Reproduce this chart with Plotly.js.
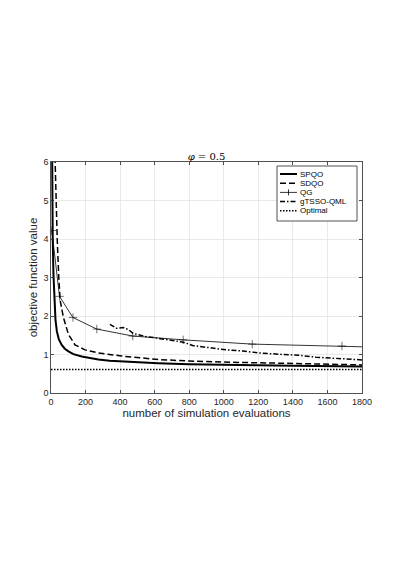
<!DOCTYPE html>
<html>
<head>
<meta charset="utf-8">
<script src="https://cdn.plot.ly/plotly-3.0.1.min.js"></script>
<style>html,body{margin:0;padding:0;background:#fff;}#chart{width:399px;height:564px;}</style>
</head>
<body>
<div id="chart"></div>
<script>
// ---- data ----
const spqoX = [4, 6, 8, 10, 14, 20, 26, 34, 45, 62, 80, 101, 130, 178, 230, 274, 340, 408, 500, 620, 800, 1000, 1200, 1400, 1600, 1800];
const spqoY = [8.0, 6.0, 4.8, 4.0, 3.1, 2.3, 1.9, 1.6, 1.4, 1.25, 1.15, 1.08, 1.01, 0.95, 0.90, 0.87, 0.84, 0.82, 0.80, 0.775, 0.75, 0.73, 0.72, 0.71, 0.70, 0.69];

const sdqoX = [12, 22, 28, 36, 45, 53, 72, 101, 139, 197, 274, 408, 620, 800, 1036, 1228, 1500, 1800];
const sdqoY = [8.0, 6.0, 5.0, 4.0, 3.0, 2.4, 1.96, 1.52, 1.25, 1.12, 1.04, 0.96, 0.87, 0.83, 0.80, 0.78, 0.75, 0.73];

const qgX = [5, 49, 127, 265, 473, 765, 1165, 1684, 1800];
const qgY = [4.22, 2.51, 1.96, 1.66, 1.48, 1.38, 1.27, 1.22, 1.20];
const qgMarkerSize = [6, 6, 6, 6, 6, 6, 6, 6, 0];

const gtX = [341, 380, 418, 447, 475, 497, 543, 593, 689, 765, 823, 919, 1015, 1112, 1207, 1342, 1438, 1534, 1650, 1800];
const gtY = [1.78, 1.68, 1.70, 1.65, 1.55, 1.52, 1.47, 1.44, 1.38, 1.32, 1.23, 1.18, 1.12, 1.09, 1.04, 1.00, 0.98, 0.93, 0.90, 0.86];

const optX = [0, 1800];
const optY = [0.61, 0.61];

const xTicks = [0, 200, 400, 600, 800, 1000, 1200, 1400, 1600, 1800];
const yTicks = [0, 1, 2, 3, 4, 5, 6];

const names = ['SPQO', 'SDQO', 'QG', 'gTSSO-QML', 'Optimal'];

// ---- styles ----
const FONT = 'Liberation Sans, Arial, sans-serif';
const styles = [
  {color: '#000', width: 2},
  {color: '#000', width: 1.5, dash: '6px,3px'},
  {color: '#000', width: 0.8},
  {color: '#000', width: 1.5, dash: '5px,2px,1.5px,2px'},
  {color: '#000', width: 1.5, dash: '1.5px,1.5px'}
];

const traces = [
  {x: spqoX, y: spqoY, name: names[0], mode: 'lines', line: styles[0]},
  {x: sdqoX, y: sdqoY, name: names[1], mode: 'lines', line: styles[1]},
  {x: qgX, y: qgY, name: names[2], mode: 'lines+markers', line: styles[2],
   marker: {symbol: 'cross-thin-open', size: qgMarkerSize, line: {color: '#000', width: 0.8}}},
  {x: gtX, y: gtY, name: names[3], mode: 'lines', line: styles[3]},
  {x: optX, y: optY, name: names[4], mode: 'lines', line: styles[4]}
];

// ---- compact legend (MATLAB style) drawn with shapes + annotations ----
const W = 399, H = 564, M = {l: 51, r: 37, t: 162, b: 171};
const pw = W - M.l - M.r, ph = H - M.t - M.b;
const px2x = p => (p - M.l) / pw;
const py2y = p => (H - M.b - p) / ph;
const legBox = {x0: 277, x1: 357, y0: 166, y1: 221};
const rowY0 = 174, rowStep = 9.2, lineX0 = 280, lineX1 = 297, textX = 298;

const shapes = [{type: 'rect', xref: 'paper', yref: 'paper',
  x0: px2x(legBox.x0), x1: px2x(legBox.x1), y0: py2y(legBox.y1), y1: py2y(legBox.y0),
  fillcolor: '#fff', line: {color: '#262626', width: 0.8}}];
const annotations = [];
names.forEach((n, i) => {
  const yy = py2y(rowY0 + i * rowStep);
  shapes.push({type: 'line', xref: 'paper', yref: 'paper', x0: px2x(lineX0), x1: px2x(lineX1), y0: yy, y1: yy,
    line: {color: styles[i].color, width: styles[i].width, dash: styles[i].dash || 'solid'}});
  if (n === 'QG') {
    const mx = px2x((lineX0 + lineX1) / 2);
    shapes.push({type: 'line', xref: 'paper', yref: 'paper', x0: mx, x1: mx,
      y0: py2y(rowY0 + i * rowStep - 3), y1: py2y(rowY0 + i * rowStep + 3), line: {color: '#000', width: 0.8}});
  }
  annotations.push({xref: 'paper', yref: 'paper', x: px2x(textX), y: yy, xanchor: 'left', yanchor: 'middle',
    text: n, showarrow: false, font: {family: FONT, size: 8, color: '#000'}});
});

const axisCommon = {
  showline: true, mirror: 'ticks', linecolor: '#262626', linewidth: 0.8,
  ticks: 'inside', ticklen: 3, tickcolor: '#262626', tickwidth: 0.8,
  showgrid: true, gridcolor: '#e3e3e3', gridwidth: 0.8, zeroline: false,
  tickfont: {family: FONT, size: 9, color: '#262626'}
};

const layout = {
  width: W, height: H,
  margin: M,
  paper_bgcolor: '#fff', plot_bgcolor: '#fff',
  showlegend: false,
  title: {text: '<i>φ</i> = 0.5', font: {family: 'DejaVu Serif, serif', size: 10, color: '#000'},
          x: 0.5, xref: 'paper', y: 1, yref: 'paper', yanchor: 'bottom', pad: {b: 2}},
  xaxis: Object.assign({}, axisCommon, {
    range: [0, 1800], tickvals: xTicks, ticktext: xTicks.map(String),
    title: {text: 'number of simulation evaluations', standoff: 0,
            font: {family: FONT, size: 11.5, color: '#262626'}}
  }),
  yaxis: Object.assign({}, axisCommon, {
    range: [0, 6], tickvals: yTicks, ticktext: yTicks.map(String),
    title: {text: 'objective function value', standoff: 3,
            font: {family: FONT, size: 11.5, color: '#262626'}}
  }),
  shapes: shapes,
  annotations: annotations
};

Plotly.newPlot('chart', traces, layout, {displayModeBar: false, staticPlot: true});
</script>
</body>
</html>
